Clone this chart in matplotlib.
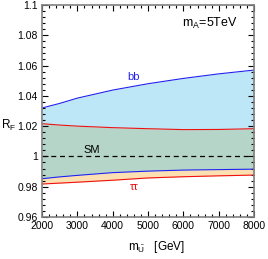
import matplotlib
matplotlib.use("Agg")
import matplotlib.pyplot as plt
from matplotlib.ticker import MultipleLocator, FixedLocator

plt.rcParams["font.family"] = ["Liberation Sans", "DejaVu Sans"]
plt.rcParams["mathtext.fontset"] = "custom"
plt.rcParams["mathtext.rm"] = "Liberation Sans"
plt.rcParams["mathtext.it"] = "Liberation Sans"

# data
mass = [2000, 2500, 3000, 4000, 5000, 6000, 7000, 8000]
bb_upper = [1.0320, 1.0350, 1.0385, 1.0438, 1.0480, 1.0515, 1.0545, 1.0570]
sm_upper = [1.0216, 1.0207, 1.0200, 1.0190, 1.0183, 1.0177, 1.0178, 1.0183]
sm_lower = [0.9853, 0.9865, 0.9875, 0.9893, 0.9903, 0.9910, 0.9913, 0.9916]
tau_lower = [0.9818, 0.9824, 0.9830, 0.9843, 0.9858, 0.9866, 0.9872, 0.9877]
x_ticks = [2000, 3000, 4000, 5000, 6000, 7000, 8000]
y_ticks = [0.96, 0.98, 1.0, 1.02, 1.04, 1.06, 1.08, 1.1]
y_labels = ["0.96", "0.98", "1", "1.02", "1.04", "1.06", "1.08", "1.1"]

fig = plt.figure(figsize=(2.68, 2.59), dpi=100)
ax = fig.add_axes([0.157, 0.162, 0.791, 0.819])

# shaded bands
ax.fill_between(mass, sm_upper, bb_upper, color="#bde6f6", lw=0)
ax.fill_between(mass, sm_lower, sm_upper, color="#b5d5c9", lw=0)
ax.fill_between(mass, tau_lower, sm_lower, color="#fde0b2", lw=0)

ax.plot(mass, bb_upper, color="#2222ee", lw=0.8)
ax.plot(mass, sm_upper, color="#ee1111", lw=0.8)
ax.plot(mass, sm_lower, color="#2222ee", lw=0.8)
ax.plot(mass, tau_lower, color="#ee1111", lw=0.8)
ax.axhline(1.0, color="black", lw=0.9, ls=(0, (4, 3)))

ax.set_xlim(2000, 8000)
ax.set_ylim(0.96, 1.1)
ax.xaxis.set_major_locator(FixedLocator(x_ticks))
ax.xaxis.set_minor_locator(MultipleLocator(200))
ax.yaxis.set_major_locator(FixedLocator(y_ticks))
ax.set_yticklabels(y_labels)
ax.yaxis.set_minor_locator(MultipleLocator(0.004))
ax.tick_params(which="both", direction="in", top=True, right=True,
               labelsize=7.5, color="black", width=0.8, pad=3)
ax.tick_params(which="major", length=4)
ax.tick_params(which="minor", length=2)
for s in ax.spines.values():
    s.set_color("#808080")
    s.set_linewidth(1.2)

ax.text(4600, 1.0525, "bb", color="#2222ee", fontsize=8, ha="center", va="center")
ax.text(3400, 1.0043, "SM", color="black", fontsize=8, ha="center", va="center")
ax.text(4600, 0.9800, "ττ", color="#ee1111", fontsize=8, ha="center", va="center")
ax.text(6750, 1.088, r"m$_\mathregular{A}$=5TeV", color="black", fontsize=9,
        ha="center", va="center")

fig.text(0.005, 0.515, r"R$_\mathregular{F}$", fontsize=8.5, ha="left", va="center")
fig.text(0.585, 0.045, r"m$_{\tilde{\mathregular{U}}}$   [GeV]", fontsize=8.5,
         ha="center", va="center")

fig.savefig("out.png", dpi=100)
